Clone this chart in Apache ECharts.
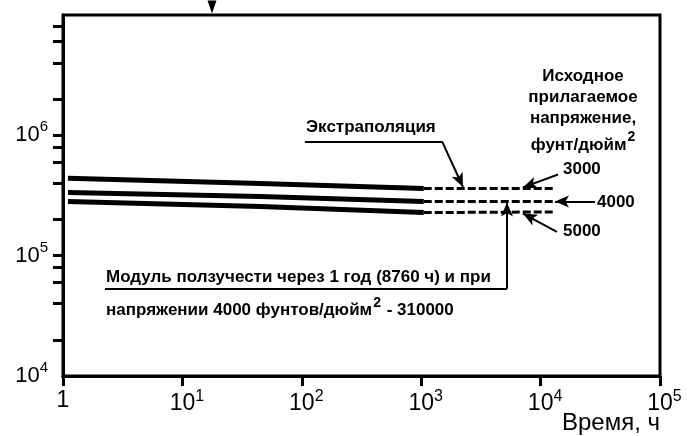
<!DOCTYPE html>
<html>
<head>
<meta charset="utf-8">
<script src="https://cdn.jsdelivr.net/npm/echarts@6/dist/echarts.min.js"></script>
<style>
  html, body { margin: 0; padding: 0; background: #fff; }
  #chart { width: 689px; height: 436px; }
</style>
</head>
<body>
<div id="chart"></div>
<script>
// measured creep-modulus curves (solid) and extrapolation (dashed)
var timeMeasured = [1.1, 45, 1050];
var modulus3000 = [440000, 398000, 361000];
var modulus4000 = [335000, 310000, 282000];
var modulus5000 = [282000, 256000, 228000];

var timeExtrap = [1050, 12700];
var extrap3000 = [361000, 361000];
var extrap4000 = [282000, 282000];
var extrap5000 = [228000, 231000];

var stressNames = ['3000', '4000', '5000'];
var xTicks = [1, 10, 100, 1000, 10000, 100000];
var yLabels = [10000, 100000, 1000000];
var yTicks = [20000, 40000, 60000, 80000, 100000, 200000, 400000, 600000, 800000,
  1000000, 2000000, 4000000, 6000000, 8000000];

var FONT = '"Liberation Sans", Arial, sans-serif';
var NOTE = 'bold 17px ' + FONT;

function pairs(xs, ys) {
  return xs.map(function(x, i) { return [x, ys[i]]; });
}

function powLabel(v) {
  var e = Math.round(Math.log10(v));
  if (e === 0) return '{b|1}';
  return '{p|}{b|10}{s|' + e + '}';
}

var chart = echarts.init(document.getElementById('chart'), null, { renderer: 'canvas' });

var solidStyle = { color: '#000', width: 5 };
var dashStyle = { color: '#000', width: 3, type: [8, 3] };
var arrowLine = { color: '#000', width: 2, type: 'solid' };

chart.setOption({
  animation: false,
  backgroundColor: '#fff',
  grid: {
    left: 63, right: 29, top: 15, bottom: 60,
    show: true, borderColor: '#000', borderWidth: 3, backgroundColor: 'transparent'
  },
  xAxis: {
    type: 'log', logBase: 10, min: 1, max: 100000,
    axisLine: { lineStyle: { color: '#000', width: 3 } },
    axisTick: { show: true, length: 10, lineStyle: { color: '#000', width: 3 }, customValues: xTicks },
    splitLine: { show: false },
    minorTick: { show: false },
    axisLabel: {
      customValues: xTicks, margin: 13, color: '#000', fontFamily: FONT, fontSize: 23,
      formatter: powLabel,
      rich: {
        b: { fontSize: 23, fontFamily: FONT, color: '#000' },
        s: { fontSize: 16, fontFamily: FONT, color: '#000', padding: [0, 0, 14, 0] },
        p: { width: 9 }
      }
    }
  },
  yAxis: {
    type: 'log', logBase: 10, min: 10000, max: 10000000,
    axisLine: { lineStyle: { color: '#000', width: 3 } },
    axisTick: { show: true, length: 10, lineStyle: { color: '#000', width: 3 }, customValues: yTicks },
    splitLine: { show: false },
    minorTick: { show: false },
    axisLabel: {
      customValues: yLabels, margin: 15, color: '#000', fontFamily: FONT, fontSize: 22,
      formatter: function(v) {
        var e = Math.round(Math.log10(v));
        return '{b|10}{s|' + e + '}';
      },
      rich: {
        b: { fontSize: 22, fontFamily: FONT, color: '#000' },
        s: { fontSize: 15, fontFamily: FONT, color: '#000', padding: [0, 0, 16, 0] }
      }
    }
  },
  series: [
    { name: stressNames[0], type: 'line', data: pairs(timeMeasured, modulus3000), symbol: 'none', lineStyle: solidStyle,
      markPoint: {
        silent: true, symbol: 'triangle', symbolRotate: 180, symbolSize: [9, 13], symbolOffset: [0, -8],
        itemStyle: { color: '#000' }, label: { show: false },
        data: [{ coord: [17.7, 10000000] }]
      }
    },
    { name: stressNames[1], type: 'line', data: pairs(timeMeasured, modulus4000), symbol: 'none', lineStyle: solidStyle },
    { name: stressNames[2], type: 'line', data: pairs(timeMeasured, modulus5000), symbol: 'none', lineStyle: solidStyle },
    { name: stressNames[0] + ' экстр.', type: 'line', data: pairs(timeExtrap, extrap3000), symbol: 'none', lineStyle: dashStyle },
    { name: stressNames[1] + ' экстр.', type: 'line', data: pairs(timeExtrap, extrap4000), symbol: 'none', lineStyle: dashStyle },
    { name: stressNames[2] + ' экстр.', type: 'line', data: pairs(timeExtrap, extrap5000), symbol: 'none', lineStyle: dashStyle,
      markLine: {
        silent: true, animation: false, symbolSize: [9, 14],
        label: { show: false }, lineStyle: arrowLine,
        data: [
          // "Экстраполяция" underline + arrow
          [{ coord: [106, 890000], symbol: 'none' }, { coord: [1494, 890000], symbol: 'none' }],
          [{ coord: [1494, 890000], symbol: 'none' }, { coord: [2239, 372000], symbol: 'arrow' }],
          // stress labels
          [{ coord: [14000, 473000], symbol: 'none' }, { coord: [7120, 369000], symbol: 'arrow' }],
          [{ coord: [28550, 282000], symbol: 'none' }, { coord: [13200, 282000], symbol: 'arrow' }],
          [{ coord: [13700, 158000], symbol: 'none' }, { coord: [7120, 224000], symbol: 'arrow' }],
          // creep modulus callout
          [{ coord: [2.25, 53100], symbol: 'none' }, { coord: [5230, 53100], symbol: 'none' }],
          [{ coord: [5230, 53100], symbol: 'none' }, { coord: [5230, 277000], symbol: 'arrow' }]
        ]
      }
    }
  ],
  graphic: [
    { type: 'text', x: 306, y: 127, style: { text: 'Экстраполяция', font: NOTE, fill: '#000', verticalAlign: 'middle' } },
    { type: 'text', x: 583, y: 76, style: { text: 'Исходное', font: NOTE, fill: '#000', align: 'center', verticalAlign: 'middle' } },
    { type: 'text', x: 583, y: 97, style: { text: 'прилагаемое', font: NOTE, fill: '#000', align: 'center', verticalAlign: 'middle' } },
    { type: 'text', x: 583, y: 118, style: { text: 'напряжение,', font: NOTE, fill: '#000', align: 'center', verticalAlign: 'middle' } },
    { type: 'text', x: 583, y: 145, style: {
      text: '{a|фунт/дюйм}{s|2}', align: 'center', verticalAlign: 'middle', fill: '#000',
      rich: {
        a: { font: NOTE, fill: '#000' },
        s: { font: 'bold 14px ' + FONT, fill: '#000', padding: [0, 0, 16, 1] }
      }
    } },
    { type: 'text', x: 563, y: 169, style: { text: '3000', font: NOTE, fill: '#000', verticalAlign: 'middle' } },
    { type: 'text', x: 597, y: 202, style: { text: '4000', font: NOTE, fill: '#000', verticalAlign: 'middle' } },
    { type: 'text', x: 563, y: 231, style: { text: '5000', font: NOTE, fill: '#000', verticalAlign: 'middle' } },
    { type: 'text', x: 106, y: 277, style: { text: 'Модуль ползучести через 1 год (8760 ч) и при', font: NOTE, fill: '#000', verticalAlign: 'middle' } },
    { type: 'text', x: 106, y: 310, style: {
      text: '{a|напряжении 4000 фунтов/дюйм}{s|2}{a| - 310000}', verticalAlign: 'middle', fill: '#000',
      rich: {
        a: { font: NOTE, fill: '#000' },
        s: { font: 'bold 14px ' + FONT, fill: '#000', padding: [0, 1, 14, 1] }
      }
    } },
    { type: 'text', x: 660, y: 423, style: { text: 'Время, ч', font: '24px ' + FONT, fill: '#000', align: 'right', verticalAlign: 'middle' } }
  ]
});

window.addEventListener('resize', function() { chart.resize(); });
</script>
</body>
</html>
